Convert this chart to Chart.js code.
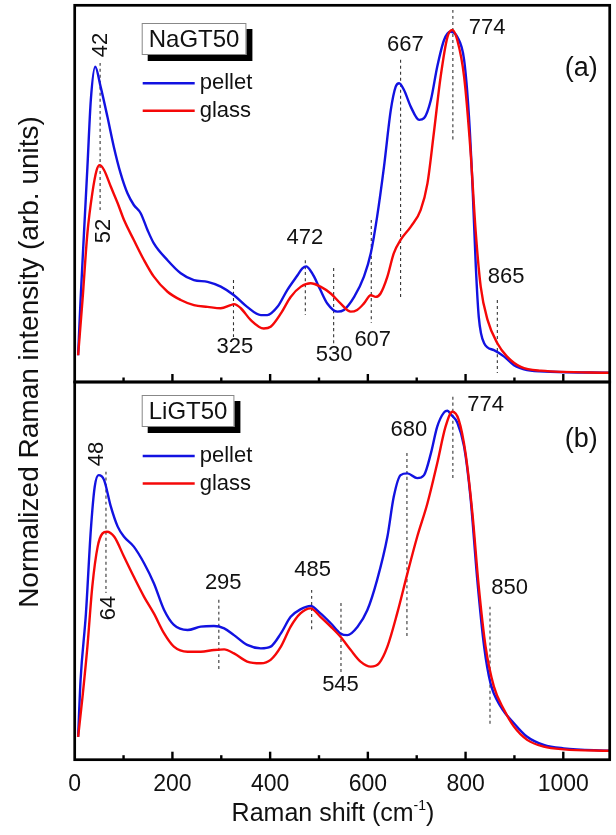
<!DOCTYPE html>
<html>
<head>
<meta charset="utf-8">
<script src="https://cdn.jsdelivr.net/npm/chart.js@4.4.1/dist/chart.umd.min.js"></script>
<style>
  html, body { margin: 0; padding: 0; background: #fff; }
  #wrap { position: relative; width: 616px; height: 835px; }
  #wrap canvas { position: absolute; left: 0; top: 0; }
</style>
</head>
<body>
<div id="wrap">
  <canvas id="chartA" width="616" height="835"></canvas>
  <canvas id="chartB" width="616" height="835"></canvas>
</div>
<script>
// Raman spectra, normalized to the ~774 cm-1 band

// (a) NaGT50
const naPelletShift = [7,12,19,26,33,42,53,67,80,94,108,121,135,149,162,190,217,244,272,299,326,353,381,394,415,435,456,466,474,482,490,503,517,538,551,572,592,606,619,633,647,657,664,674,688,705,715,729,742,756,769,783,797,807,814,821,827,838,858,879,899,926,974,1095];
const naPelletInt = [0.052,0.213,0.408,0.600,0.796,0.893,0.835,0.747,0.660,0.582,0.524,0.490,0.466,0.417,0.378,0.329,0.291,0.271,0.266,0.252,0.227,0.193,0.169,0.169,0.193,0.242,0.285,0.305,0.311,0.300,0.281,0.242,0.203,0.179,0.184,0.222,0.281,0.349,0.456,0.601,0.767,0.835,0.845,0.825,0.776,0.738,0.743,0.796,0.893,0.971,0.995,0.980,0.913,0.747,0.553,0.310,0.164,0.087,0.067,0.048,0.023,0.009,0.004,0.001];
const naGlassShift = [7,16,26,36,45,51,60,74,88,101,121,142,162,190,217,244,272,299,319,326,340,360,387,401,422,442,463,483,503,524,544,565,578,592,606,616,626,640,653,667,688,708,722,735,749,763,773,783,797,810,821,831,845,865,885,913,954,1095];
const naGlassInt = [0.052,0.213,0.408,0.524,0.592,0.606,0.592,0.543,0.495,0.446,0.388,0.329,0.281,0.237,0.213,0.198,0.193,0.189,0.198,0.201,0.189,0.155,0.130,0.135,0.174,0.222,0.252,0.262,0.252,0.232,0.203,0.179,0.184,0.203,0.227,0.222,0.232,0.281,0.349,0.388,0.427,0.475,0.553,0.699,0.864,0.980,1.000,0.971,0.864,0.650,0.407,0.252,0.155,0.087,0.048,0.018,0.007,0.001];
const naPeaks = [52, 325, 472, 530, 607, 667, 774, 865];
const naMarkTop = [0.904, 0.271, 0.329, 0.306, 0.446, 0.913, 1.058, 0.213];
const naMarkBottom = [0.475, 0.105, 0.169, 0.076, 0.146, 0.222, 0.673, 0.0];

// (b) LiGT50
const liPelletShift = [7,12,23,33,41,49,60,74,88,101,121,142,162,183,203,231,258,285,306,326,353,381,401,422,442,462,483,503,524,544,558,579,599,619,640,653,667,681,701,715,729,742,756,763,770,783,797,810,824,838,851,872,899,926,960,1001,1095];
const liPelletInt = [0.041,0.208,0.405,0.651,0.779,0.813,0.799,0.720,0.661,0.631,0.602,0.553,0.494,0.415,0.371,0.356,0.366,0.368,0.361,0.341,0.312,0.302,0.307,0.346,0.395,0.417,0.427,0.405,0.376,0.346,0.341,0.366,0.415,0.504,0.631,0.749,0.813,0.818,0.804,0.813,0.877,0.956,0.998,1.003,0.992,0.968,0.897,0.749,0.504,0.307,0.199,0.130,0.081,0.041,0.017,0.007,0.000];
const liGlassShift = [7,16,26,36,47,57,66,81,101,121,142,162,183,203,231,258,285,306,326,353,381,401,422,442,462,483,503,524,544,565,585,606,623,640,660,681,701,722,742,759,773,786,800,814,827,841,858,879,899,926,960,1001,1095];
const liGlassInt = [0.041,0.159,0.307,0.484,0.602,0.641,0.646,0.631,0.572,0.513,0.454,0.405,0.346,0.307,0.292,0.292,0.297,0.299,0.287,0.263,0.258,0.268,0.307,0.366,0.405,0.420,0.395,0.366,0.336,0.297,0.263,0.248,0.258,0.307,0.405,0.523,0.631,0.730,0.848,0.956,1.000,0.976,0.877,0.700,0.484,0.307,0.189,0.120,0.071,0.032,0.012,0.004,0.000];
const liPeaks = [64, 295, 485, 545, 680, 774, 850];
const liMarkTop = [0.823, 0.445, 0.474, 0.436, 0.878, 1.044, 0.425];
const liMarkBottom = [0.465, 0.238, 0.351, 0.229, 0.332, 0.799, 0.076];

const seriesNames = ['pellet', 'glass'];
const xTicks = [0, 200, 400, 600, 800, 1000];

const FONT = '"Liberation Sans", Arial, Helvetica, sans-serif';
const BLUE = 'rgb(18,18,225)';
const RED = 'rgb(245,8,8)';

const pts = (xs, ys) => xs.map((x, i) => ({ x: x, y: ys[i] }));

function buildDatasets(pShift, pInt, gShift, gInt, peaks, top, bottom) {
  const sets = [
    { label: seriesNames[1], data: pts(gShift, gInt), borderColor: RED, borderWidth: 2.4, order: 0 },
    { label: seriesNames[0], data: pts(pShift, pInt), borderColor: BLUE, borderWidth: 2.4, order: 1 }
  ];
  peaks.forEach((p, i) => {
    sets.push({
      data: [{ x: p, y: top[i] }, { x: p, y: bottom[i] }],
      borderColor: '#333', borderWidth: 1.1, borderDash: [3, 3], order: 2
    });
  });
  sets.forEach(s => {
    s.pointRadius = 0;
    s.fill = false;
    s.cubicInterpolationMode = 'monotone';
  });
  return sets;
}

// peak labels, panel letter and sample box
function panelDeco(p) {
  return {
    id: 'deco' + p.sample,
    afterDatasetsDraw(chart) {
      const ctx = chart.ctx, a = chart.chartArea;
      const xs = chart.scales.x, ys = chart.scales.y;
      ctx.save();

      ctx.strokeStyle = '#000';
      ctx.lineWidth = 2.7;
      ctx.strokeRect(a.left, a.top, a.right - a.left, a.bottom - a.top);

      ctx.lineWidth = 2.4;
      for (let v = 100; v <= 1000; v += 100) {
        const px = xs.getPixelForValue(v);
        const len = v % 200 === 0 ? 8 : 4.5;
        ctx.beginPath();
        ctx.moveTo(px, a.bottom);
        ctx.lineTo(px, a.bottom - len);
        ctx.stroke();
      }

      ctx.fillStyle = '#111';
      ctx.textAlign = 'center';
      ctx.textBaseline = 'middle';
      ctx.font = '22px ' + FONT;
      p.labels.forEach(l => {
        ctx.save();
        ctx.translate(xs.getPixelForValue(l.x), ys.getPixelForValue(l.y));
        if (l.rot) ctx.rotate(-Math.PI / 2);
        ctx.fillText(l.t, 0, 0);
        ctx.restore();
      });

      ctx.font = '27px ' + FONT;
      ctx.fillText(p.tag, xs.getPixelForValue(p.tagX), ys.getPixelForValue(p.tagY));

      // sample name box with drop shadow
      ctx.font = '24px ' + FONT;
      const w = ctx.measureText(p.sample).width + 14, h = 32;
      const bx = a.left + 67, by = a.top + p.boxTop;
      ctx.fillStyle = '#000';
      ctx.fillRect(bx + 6, by + 6, w, h);
      ctx.fillStyle = '#fff';
      ctx.fillRect(bx, by, w, h);
      ctx.strokeStyle = '#888';
      ctx.lineWidth = 1;
      ctx.strokeRect(bx + 0.5, by + 0.5, w - 1, h - 1);
      ctx.fillStyle = '#111';
      ctx.textAlign = 'left';
      ctx.fillText(p.sample, bx + 7, by + h / 2 + 1);

      // legend
      ctx.font = '22px ' + FONT;
      [1, 0].forEach((di, k) => {
        const ds = chart.data.datasets[di];
        const ly = a.top + p.legendTop + k * 27.5;
        ctx.strokeStyle = ds.borderColor;
        ctx.lineWidth = 2.4;
        ctx.beginPath();
        ctx.moveTo(a.left + 68, ly);
        ctx.lineTo(a.left + 120, ly);
        ctx.stroke();
        ctx.fillStyle = '#111';
        ctx.fillText(ds.label, a.left + 125, ly);
      });
      ctx.restore();
    }
  };
}

// shared axis titles (drawn once, on the lower chart)
const axisTitles = {
  id: 'axisTitles',
  afterDraw(chart) {
    const ctx = chart.ctx;
    ctx.save();
    ctx.fillStyle = '#111';
    ctx.textBaseline = 'alphabetic';

    ctx.font = '28px ' + FONT;
    ctx.textAlign = 'center';
    ctx.translate(38, 362);
    ctx.rotate(-Math.PI / 2);
    ctx.fillText('Normalized Raman intensity (arb. units)', 0, 0);
    ctx.setTransform(1, 0, 0, 1, 0, 0);

    const main = 'Raman shift (cm', sup = '-1', tail = ')';
    ctx.textAlign = 'left';
    ctx.font = '25px ' + FONT;
    const w1 = ctx.measureText(main).width, w3 = ctx.measureText(tail).width;
    ctx.font = '14px ' + FONT;
    const w2 = ctx.measureText(sup).width;
    let x = 333 - (w1 + w2 + w3) / 2;
    const base = 821;
    ctx.font = '25px ' + FONT;
    ctx.fillText(main, x, base);
    x += w1;
    ctx.font = '14px ' + FONT;
    ctx.fillText(sup, x, base - 11);
    x += w2;
    ctx.font = '25px ' + FONT;
    ctx.fillText(tail, x, base);
    ctx.restore();
  }
};

const xRange = { min: 0, max: 1095 };

new Chart(document.getElementById('chartA'), {
  type: 'line',
  data: { datasets: buildDatasets(naPelletShift, naPelletInt, naGlassShift, naGlassInt, naPeaks, naMarkTop, naMarkBottom) },
  options: {
    responsive: false,
    animation: false,
    layout: { padding: { left: 74.7, right: 6.3, top: 5.3, bottom: 453 } },
    plugins: { legend: { display: false }, tooltip: { enabled: false } },
    scales: {
      x: { type: 'linear', min: xRange.min, max: xRange.max, display: false },
      y: { min: -0.026, max: 1.072, display: false }
    }
  },
  plugins: [panelDeco({
    sample: 'NaGT50', tag: '(a)', tagX: 1037, tagY: 0.889, boxTop: 17.7, legendTop: 78,
    labels: [
      { t: '42', x: 53, y: 0.956, rot: true },
      { t: '52', x: 59, y: 0.414, rot: true },
      { t: '325', x: 328, y: 0.076 },
      { t: '472', x: 471, y: 0.394 },
      { t: '530', x: 531, y: 0.052 },
      { t: '607', x: 610, y: 0.096 },
      { t: '667', x: 677, y: 0.956 },
      { t: '774', x: 844, y: 1.006 },
      { t: '865', x: 883, y: 0.280 }
    ]
  })]
});

new Chart(document.getElementById('chartB'), {
  type: 'line',
  data: { datasets: buildDatasets(liPelletShift, liPelletInt, liGlassShift, liGlassInt, liPeaks, liMarkTop, liMarkBottom) },
  options: {
    responsive: false,
    animation: false,
    layout: { padding: { left: 74.7, right: 6.3, top: 382, bottom: 0 } },
    plugins: { legend: { display: false }, tooltip: { enabled: false } },
    scales: {
      x: {
        type: 'linear', min: xRange.min, max: xRange.max,
        afterFit: s => { s.height = 75.3; },
        afterBuildTicks: s => { s.ticks = xTicks.map(v => ({ value: v })); },
        grid: { display: false, drawTicks: false },
        border: { display: false },
        ticks: {
          font: { size: 23, family: FONT }, color: '#111', padding: 11,
          maxRotation: 0, autoSkip: false,
          callback: v => String(v)
        }
      },
      y: { min: -0.0265, max: 1.0876, display: false }
    }
  },
  plugins: [panelDeco({
    sample: 'LiGT50', tag: '(b)', tagX: 1037, tagY: 0.917, boxTop: 13, legendTop: 74,
    labels: [
      { t: '48', x: 46, y: 0.875, rot: true },
      { t: '64', x: 70, y: 0.421, rot: true },
      { t: '295', x: 304, y: 0.494 },
      { t: '485', x: 487, y: 0.533 },
      { t: '545', x: 544, y: 0.194 },
      { t: '680', x: 684, y: 0.946 },
      { t: '774', x: 841, y: 1.020 },
      { t: '850', x: 890, y: 0.480 }
    ]
  }), axisTitles]
});
</script>
</body>
</html>
